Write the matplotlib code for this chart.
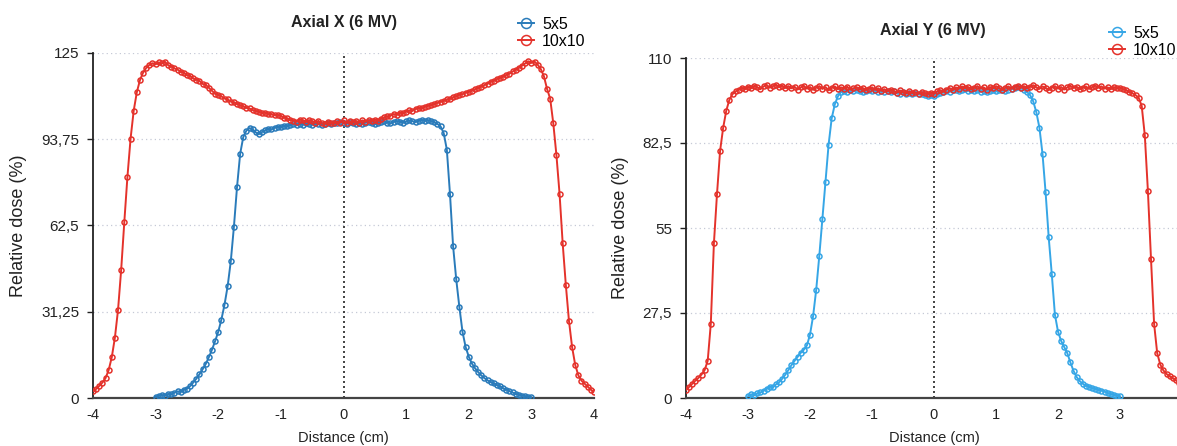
import numpy as np
import matplotlib
matplotlib.use("Agg")
import matplotlib.pyplot as plt

plt.rcParams["font.family"] = ["Liberation Sans", "DejaVu Sans"]

# measurement grid (cm)
dist_10 = np.round(np.arange(-4.0, 4.0001, 0.05), 2)
dist_5 = np.round(np.arange(-3.0, 3.0001, 0.05), 2)

# Axial X (6 MV), relative dose (%)
axial_x_10 = [
    2.4, 3.3, 4.4, 5.6, 7.2, 10.1, 14.8, 21.9, 32.0, 46.5,
    63.8, 80.2, 94.0, 104.1, 110.8, 115.2, 117.9, 119.6, 120.7, 121.3,
    120.9, 121.6, 121.2, 121.8, 120.6, 120.1, 119.4, 119.0, 118.2, 117.9,
    117.0, 116.7, 115.8, 115.3, 114.9, 113.8, 113.5, 112.4, 111.3, 110.2,
    109.8, 109.3, 108.5, 108.2, 107.4, 107.1, 106.6, 106.0, 105.7, 105.1,
    104.9, 104.3, 104.0, 103.7, 103.2, 103.4, 102.8, 102.9, 102.5, 102.6,
    102.2, 101.6, 101.3, 100.7, 100.5, 100.1, 100.9, 100.6, 100.0, 100.7,
    100.3, 99.8, 100.4, 99.6, 99.4, 100.0, 99.7, 99.5, 100.2, 99.8,
    100.6, 99.6, 100.2, 99.9, 100.4, 99.8, 100.6, 100.1, 100.7, 100.3,
    100.9, 100.5, 101.2, 101.7, 102.0, 102.3, 102.9, 102.6, 103.4, 103.1,
    103.8, 104.2, 104.0, 104.7, 105.1, 105.0, 105.6, 105.9, 106.1, 106.5,
    106.9, 107.3, 107.6, 108.2, 108.4, 109.0, 109.3, 109.9, 110.1, 110.6,
    111.0, 111.4, 111.9, 112.3, 112.8, 113.4, 113.8, 114.6, 114.9, 115.6,
    116.0, 116.4, 117.1, 117.5, 118.3, 118.9, 119.6, 120.4, 121.2, 122.0,
    121.4, 121.9, 120.8, 119.2, 116.6, 112.0, 108.5, 99.5, 88.0, 74.0,
    56.0, 41.0, 28.0, 18.5, 12.0, 8.2, 6.3, 5.2, 4.1, 3.0,
    2.1,
]
axial_x_5 = [
    0.4, 0.8, 1.1, 0.9, 1.5, 1.3, 1.9, 2.4, 2.2, 3.0,
    3.4, 4.3, 5.6, 7.0, 8.6, 10.4, 12.3, 14.8, 17.5, 20.6,
    24.0, 28.4, 33.8, 40.5, 49.5, 62.0, 76.5, 88.5, 94.6, 96.9,
    97.8, 97.3, 96.2, 95.6, 96.4, 97.0, 97.5, 97.3, 97.9, 98.3,
    98.1, 98.6, 98.4, 98.9, 99.2, 98.8, 99.4, 99.0, 99.6, 99.3,
    99.0, 99.5, 99.2, 98.9, 99.4, 99.7, 99.3, 99.8, 99.5, 100.0,
    99.7, 99.4, 99.9, 99.5, 99.2, 99.6, 99.3, 99.8, 100.1, 99.6,
    99.2, 99.7, 99.9, 100.3, 99.8, 99.5, 100.0, 100.4, 100.1, 99.8,
    100.2, 100.6, 100.3, 100.0, 100.5, 100.8, 100.4, 100.7, 100.3, 100.0,
    99.3, 98.4, 96.0, 90.0, 74.0, 55.0, 43.0, 33.0, 24.0, 18.5,
    15.0, 12.5, 10.8, 9.4, 8.2, 7.2, 6.4, 5.8, 5.3, 4.7,
    4.2, 3.5, 3.0, 2.5, 2.0, 1.5, 1.2, 0.9, 0.7, 0.5,
    0.3,
]

# Axial Y (6 MV), relative dose (%)
axial_y_10 = [
    2.6, 3.6, 4.6, 5.6, 6.5, 7.6, 9.0, 12.0, 24.0, 50.0,
    66.0, 80.0, 87.5, 93.0, 96.5, 98.3, 99.2, 99.8, 100.4, 99.9,
    100.7, 100.2, 101.0, 100.5, 99.9, 100.8, 101.3, 100.4, 100.9, 101.4,
    100.6, 101.1, 100.3, 100.9, 100.2, 100.7, 99.8, 100.5, 101.0, 100.1,
    100.6, 99.7, 100.4, 100.9, 100.0, 100.6, 99.5, 100.3, 100.8, 99.9,
    100.5, 100.1, 100.7, 99.8, 100.2, 100.6, 99.9, 100.3, 99.6, 100.1,
    100.5, 99.7, 100.2, 99.4, 99.9, 99.2, 99.8, 99.3, 98.8, 99.5,
    99.0, 98.6, 99.2, 98.7, 98.9, 98.4, 99.0, 98.6, 98.3, 98.8,
    98.5, 99.2, 99.6, 99.1, 99.8, 100.3, 99.6, 100.5, 100.1, 100.8,
    100.2, 100.6, 99.9, 100.4, 100.9, 100.1, 100.5, 99.8, 100.6, 100.2,
    100.9, 100.3, 99.7, 100.4, 100.8, 100.0, 100.6, 101.1, 100.4, 100.9,
    100.2, 100.7, 101.2, 100.5, 100.0, 100.8, 100.3, 99.6, 100.4, 100.9,
    100.1, 100.6, 99.8, 100.5, 101.0, 100.3, 100.7, 99.9, 100.4, 100.8,
    100.0, 100.6, 101.1, 100.4, 100.8, 100.1, 100.5, 99.9, 100.6, 100.2,
    100.4, 99.9, 99.6, 99.0, 98.6, 98.0, 97.2, 94.5, 85.0, 67.0,
    45.0, 24.0, 14.5, 10.8, 8.9, 7.8, 7.0, 6.4, 5.8, 4.8,
    3.9,
]
axial_y_5 = [
    0.6, 1.2, 0.9, 1.5, 1.8, 2.3, 2.9, 3.7, 3.4, 4.4,
    5.1, 6.2, 7.5, 9.0, 10.6, 12.0, 13.3, 14.6, 15.6, 17.0,
    20.5, 26.5, 35.0, 46.0, 58.0, 70.0, 82.0, 90.5, 95.0, 97.6,
    99.0, 99.4, 99.1, 99.5, 99.2, 99.6, 99.3, 99.0, 99.4, 99.7,
    99.2, 99.5, 99.1, 99.4, 99.0, 99.3, 98.9, 99.2, 98.8, 98.5,
    98.9, 98.4, 98.7, 98.3, 98.6, 98.2, 98.5, 98.0, 97.8, 98.1,
    97.6, 98.3, 98.7, 99.1, 99.4, 99.0, 99.5, 99.8, 99.3, 99.6,
    99.9, 99.4, 99.7, 99.2, 99.5, 99.1, 99.4, 99.0, 99.3, 99.6,
    99.2, 99.5, 99.8, 99.4, 99.7, 100.0, 100.3, 100.6, 100.3, 99.8,
    99.0, 98.0, 96.0, 92.5, 87.5, 79.0, 66.5, 52.0, 40.0, 27.0,
    21.5, 18.5, 16.5, 14.5, 11.5, 8.8, 6.8, 5.5, 4.6, 4.0,
    3.6, 3.2, 3.0, 2.6, 2.4, 2.1, 1.6, 1.3, 1.0, 0.8,
    0.5,
]

x_ticks = [-4, -3, -2, -1, 0, 1, 2, 3, 4]
ticks_x = [0, 31.25, 62.5, 93.75, 125]
ticks_y = [0, 27.5, 55, 82.5, 110]

RED = "#e4322b"
BLUE_X = "#2a7bba"
BLUE_Y = "#36a6e6"
W, H = 1177, 446


def style_axes(ax, yticks, ymax):
    ax.set_xlim(-4, 4)
    ax.set_ylim(0, ymax)
    ax.set_xticks(x_ticks)
    ax.set_xticklabels([str(t) for t in x_ticks])
    ax.set_yticks(yticks)
    ax.set_yticklabels([f"{t:g}".replace(".", ",") for t in yticks])
    for t in yticks[1:]:
        ax.axhline(t, color="#c5c9d6", lw=0.9, ls=(0, (1, 2.5)), zorder=0)
    ax.axvline(0, color="#222222", lw=1.2, ls=(0, (1.2, 1.8)), zorder=1)
    ax.spines["top"].set_visible(False)
    ax.spines["right"].set_visible(False)
    ax.spines["left"].set_color("#222222")
    ax.spines["left"].set_linewidth(1.3)
    ax.spines["bottom"].set_color("#444444")
    ax.spines["bottom"].set_linewidth(1.6)
    ax.tick_params(axis="y", length=4, width=1, colors="#222222", labelsize=11, pad=6)
    ax.tick_params(axis="x", length=0, colors="#222222", labelsize=10.5, pad=7)
    ax.set_xlabel("Distance (cm)", fontsize=10.5, color="#222222", labelpad=7)
    ax.set_ylabel("Relative dose (%)", fontsize=13, color="#222222", labelpad=10)


def draw_curve(ax, x, y, color, label):
    line, = ax.plot(x, y, color=color, lw=1.4, marker="o", ms=3.6,
                    mfc="none", mec=color, mew=1.1, label=label, zorder=3)
    return line


fig = plt.figure(figsize=(W / 100, H / 100), dpi=100)
ax1 = fig.add_axes([93 / W, (H - 398) / H, 501 / W, 345 / H])
ax2 = fig.add_axes([686 / W, (H - 398) / H, 496 / W, 340 / H])

style_axes(ax1, ticks_x, 125)
h5 = draw_curve(ax1, dist_5, axial_x_5, BLUE_X, "5x5")
h10 = draw_curve(ax1, dist_10, axial_x_10, RED, "10x10")
fig.text(344 / W, 1 - 23 / H, "Axial X (6 MV)", ha="center", va="center",
         fontsize=11.5, fontweight="bold", color="#222222")
fig.legend(handles=[h5, h10], loc="upper left", bbox_to_anchor=(510 / W, 1 - 9 / H),
           frameon=False, fontsize=11.5, handlelength=1.0, handletextpad=0.5,
           labelspacing=0.1, markerscale=2.0, borderpad=0)

style_axes(ax2, ticks_y, 110)
g5 = draw_curve(ax2, dist_5, axial_y_5, BLUE_Y, "5x5")
g10 = draw_curve(ax2, dist_10, axial_y_10, RED, "10x10")
fig.text(933 / W, 1 - 31 / H, "Axial Y (6 MV)", ha="center", va="center",
         fontsize=11.5, fontweight="bold", color="#222222")
fig.legend(handles=[g5, g10], loc="upper left", bbox_to_anchor=(1101 / W, 1 - 18 / H),
           frameon=False, fontsize=11.5, handlelength=1.0, handletextpad=0.5,
           labelspacing=0.1, markerscale=2.0, borderpad=0)

fig.savefig("out.png", dpi=100)
